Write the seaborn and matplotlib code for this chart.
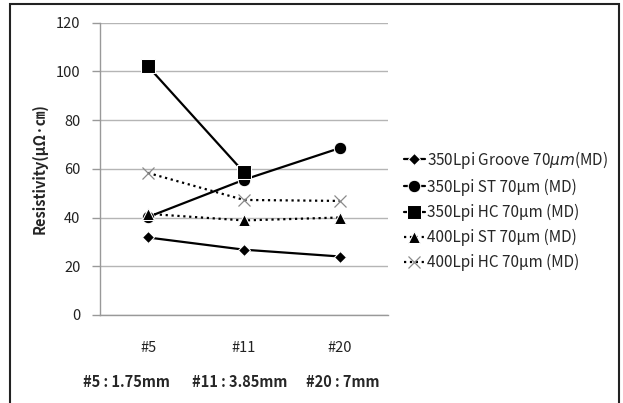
import matplotlib
matplotlib.use("Agg")
import matplotlib.pyplot as plt
import seaborn as sns
import pandas as pd
import numpy as np
from matplotlib.patches import Rectangle

categories = ["#5", "#11", "#20"]
groove_350 = [31.8, 26.8, 24.0]
st_350 = [40.2, 55.5, 68.5]
hc_350 = [102.0, 58.5, np.nan]
st_400 = [41.5, 38.8, 40.0]
hc_400 = [58.3, 47.2, 46.8]
labels = [r"350Lpi Groove 70$\mathit{\mu m}$(MD)",
          "350Lpi ST 70μm (MD)",
          "350Lpi HC 70μm (MD)",
          "400Lpi ST 70μm (MD)",
          "400Lpi HC 70μm (MD)"]
note = ["#5 : 1.75mm", "#11 : 3.85mm", "#20 : 7mm"]

sns.set_style("white")
plt.rcParams['font.family'] = ['Noto Sans CJK KR', 'DejaVu Sans']
plt.rcParams['mathtext.fontset'] = 'dejavusans'

W, H = 623, 403
fig = plt.figure(figsize=(W/100, H/100), dpi=100)
ax = fig.add_axes([100/W, 1-315/H, 288/W, (315-22.5)/H])

styles = [
    dict(marker='D', markersize=6.5, linestyle='-', color='black', linewidth=1.6),
    dict(marker='o', markersize=9, linestyle='-', color='black', linewidth=1.6),
    dict(marker='s', markersize=10, linestyle='-', color='black', linewidth=1.6),
    dict(marker='^', markersize=8.5, linestyle=':', color='black', linewidth=1.6),
    dict(marker='x', markersize=8.5, linestyle=':', color='black', linewidth=1.6,
         markeredgecolor='#8a8a8a', markeredgewidth=0.9),
]
series = [groove_350, st_350, hc_350, st_400, hc_400]
xpos = np.arange(len(categories))
for vals, lab, st in zip(series, labels, styles):
    df = pd.DataFrame({"pos": xpos, "val": vals}).dropna()
    sns.lineplot(data=df, x="pos", y="val", ax=ax, label=lab, **st)

ax.set_xlim(-0.5, 2.5)
ax.set_ylim(0, 120)
ax.set_yticks(np.arange(0, 121, 20))
ax.set_xticks(xpos)
ax.set_xticklabels(categories)
ax.set_xticks(np.arange(-0.5, 2.6, 1), minor=True)
ax.tick_params(axis='x', which='major', length=0, pad=19, labelsize=10.5, colors='#222222')
ax.tick_params(axis='x', which='minor', length=4, color='#999999', width=1, direction='out')
ax.tick_params(axis='y', length=6, color='#999999', width=1, labelsize=10.5, pad=8, labelcolor='#222222', left=True)
ax.yaxis.grid(True, color='#b5b5b5', linewidth=1)
ax.xaxis.grid(False)
for s in ['top', 'right']:
    ax.spines[s].set_visible(False)
for s in ['left', 'bottom']:
    ax.spines[s].set_color('#999999')
    ax.spines[s].set_linewidth(1)
ax.set_xlabel("")
ax.set_ylabel("Resistivity(μΩ·㎝)", fontsize=10.5, fontweight='bold', labelpad=6)

h, l = ax.get_legend_handles_labels()
ax.get_legend().remove()
fig.legend(h, l, loc='upper left', bbox_to_anchor=(396/W, 1-141/H), frameon=False,
           fontsize=11, handlelength=1.4, handletextpad=0.1, labelspacing=0.52,
           borderpad=0)

xs = [83, 192, 306]
for t, x in zip(note, xs):
    fig.text(x/W, 1-382/H, t, fontsize=10.5, fontweight='bold', va='center', ha='left')

fig.patches.append(Rectangle((10/W, -0.05), (618.5-10)/W, 1.05-4/H, transform=fig.transFigure,
                             fill=False, edgecolor='#222222', linewidth=1.5, clip_on=False))

fig.savefig("out.png", dpi=100)
